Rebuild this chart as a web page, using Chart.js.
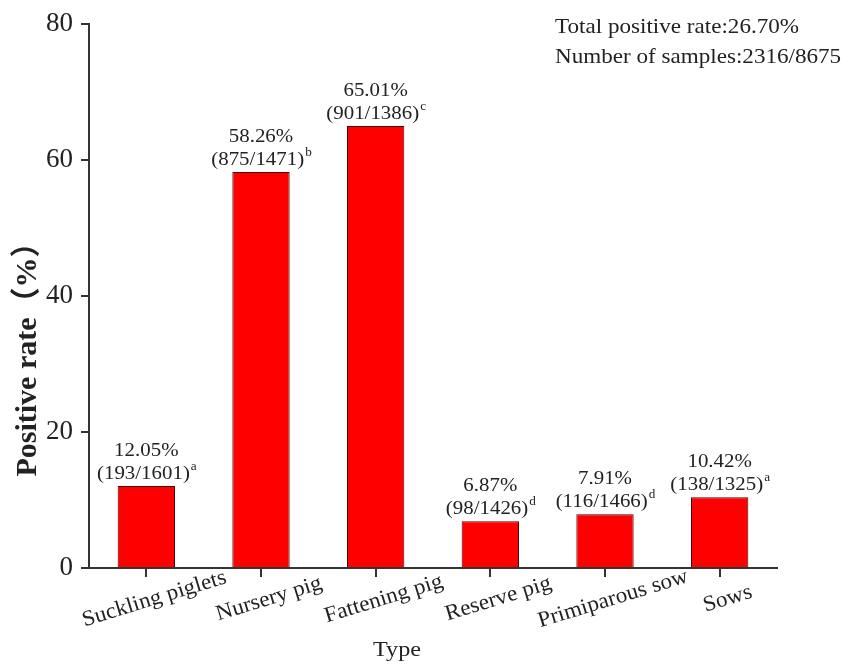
<!DOCTYPE html>
<html>
<head>
<meta charset="utf-8">
<script src="https://cdn.jsdelivr.net/npm/chart.js@4.4.0/dist/chart.umd.min.js"></script>
<style>
    html, body { margin: 0; padding: 0; background: #fff; }
    #wrap { width: 851px; height: 668px; }
</style>
</head>
<body>
<div id="wrap"><canvas id="rateChart" width="851" height="668"></canvas></div>
<script>
// Data
const categories = ['Suckling piglets', 'Nursery pig', 'Fattening pig', 'Reserve pig', 'Primiparous sow', 'Sows'];
const positiveRates = [12.05, 58.26, 65.01, 6.87, 7.91, 10.42];
const positiveCounts = [193, 875, 901, 98, 116, 138];
const sampleCounts = [1601, 1471, 1386, 1426, 1466, 1325];
const groupLetters = ['a', 'b', 'c', 'd', 'd', 'a'];
const yTicks = [0, 20, 40, 60, 80];
const summaryLines = ['Total positive rate:26.70%', 'Number of samples:2316/8675'];

const SERIF = '"Liberation Serif", "Times New Roman", "Noto Sans CJK SC", serif';
const INK = '#222';

// draw one piece of text, optionally rotated and widened a little
function drawText(ctx, text, x, y, opts) {
    const o = Object.assign({ size: 20, weight: 'normal', align: 'center', baseline: 'middle', angle: 0, stretch: 1.1 }, opts);
    ctx.save();
    ctx.translate(x, y);
    ctx.rotate(o.angle);
    ctx.scale(o.stretch, 1);
    ctx.font = `${o.weight} ${o.size}px ${SERIF}`;
    ctx.fillStyle = INK;
    ctx.textAlign = o.align;
    ctx.textBaseline = o.baseline;
    ctx.fillText(text, 0, 0);
    ctx.restore();
}

function textWidth(ctx, text, size, stretch) {
    ctx.save();
    ctx.font = `normal ${size}px ${SERIF}`;
    const w = ctx.measureText(text).width * stretch;
    ctx.restore();
    return w;
}

const annotations = {
    id: 'annotations',
    afterDraw(chart) {
        const ctx = chart.ctx;
        const meta = chart.getDatasetMeta(0);
        const xScale = chart.scales.x;
        const area = chart.chartArea;

        // labels above the bars
        meta.data.forEach((bar, i) => {
            const st = 1.1;
            drawText(ctx, positiveRates[i].toFixed(2) + '%', bar.x, bar.y - 35, { size: 19, stretch: st });
            const main = `(${positiveCounts[i]}/${sampleCounts[i]})`;
            const wMain = textWidth(ctx, main, 19, st);
            const wSup = textWidth(ctx, groupLetters[i], 12, st);
            const left = bar.x - (wMain + wSup) / 2;
            drawText(ctx, main, left, bar.y - 12, { size: 19, align: 'left', stretch: st });
            drawText(ctx, groupLetters[i], left + wMain + 1, bar.y - 19, { size: 12, align: 'left', stretch: st });
        });

        // rotated category labels
        categories.forEach((c, i) => {
            const x = xScale.getPixelForTick(i);
            drawText(ctx, c, x + 8, area.bottom + 31, { size: 22, angle: -17 * Math.PI / 180, stretch: 1.05 });
        });

        // axis titles
        drawText(ctx, 'Type', 397, 650, { size: 22 });
        drawText(ctx, 'Positive rate（%）', 28, 352, { size: 30, weight: 'bold', angle: -Math.PI / 2, stretch: 1.0 });

        // summary in the top right corner
        summaryLines.forEach((line, i) => {
            drawText(ctx, line, 555, 27 + i * 30, { size: 21, align: 'left' });
        });
    }
};

const ctx = document.getElementById('rateChart').getContext('2d');
new Chart(ctx, {
    type: 'bar',
    data: {
        labels: categories,
        datasets: [{
            data: positiveRates,
            backgroundColor: '#ff0000',
            borderColor: '#4a0000',
            borderWidth: 1,
            barPercentage: 0.5,
            categoryPercentage: 1.0
        }]
    },
    options: {
        responsive: false,
        animation: false,
        layout: { padding: { top: 15, right: 74, left: 0, bottom: 0 } },
        plugins: {
            legend: { display: false },
            tooltip: { enabled: false }
        },
        scales: {
            x: {
                grid: { display: true, offset: false, drawOnChartArea: false, drawTicks: true, tickLength: 9, color: '#333', lineWidth: 2 },
                border: { display: true, color: '#333', width: 2 },
                ticks: { display: false },
                afterFit: s => { s.height = 100; }
            },
            y: {
                min: 0,
                max: 80,
                afterBuildTicks: s => { s.ticks = yTicks.map(v => ({ value: v })); },
                grid: { display: true, drawOnChartArea: false, drawTicks: true, tickLength: 8, color: '#333', lineWidth: 2 },
                border: { display: true, color: '#333', width: 2 },
                ticks: { font: { family: SERIF, size: 27 }, color: INK, padding: 8 },
                afterFit: s => { s.width = 89; }
            }
        }
    },
    plugins: [annotations]
});
</script>
</body>
</html>
